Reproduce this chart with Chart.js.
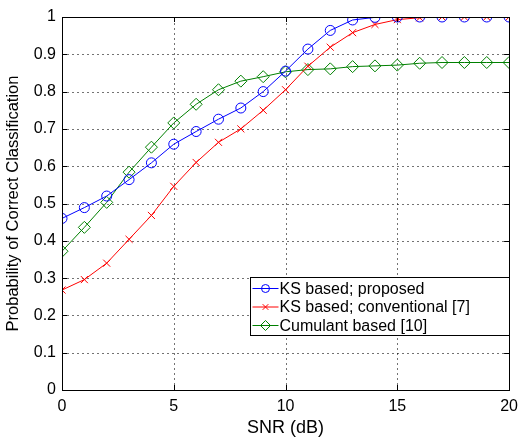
<!DOCTYPE html>
<html>
<head>
<meta charset="utf-8">
<script src="https://cdn.jsdelivr.net/npm/chart.js@4.4.0/dist/chart.umd.min.js"></script>
<style>
  html, body { margin: 0; padding: 0; background: #fff; overflow: hidden; }
  #wrap { width: 525px; height: 440px; }
</style>
</head>
<body>
<div id="wrap"><canvas id="pcc"></canvas></div>
<script>
// SNR in dB
const snr = [0,1,2,3,4,5,6,7,8,9,10,11,12,13,14,15,16,17,18,19,20];
const ksProposed = [0.46,0.489,0.52,0.564,0.609,0.659,0.693,0.726,0.756,0.80,0.855,0.914,0.964,0.992,0.999,1,1,1,1,1,1];
const ksConventional = [0.268,0.296,0.34,0.404,0.468,0.546,0.61,0.664,0.70,0.75,0.805,0.868,0.919,0.958,0.98,0.993,0.998,1,1,1,1];
const cumulant = [0.372,0.436,0.503,0.584,0.651,0.716,0.766,0.805,0.828,0.84,0.853,0.859,0.861,0.867,0.869,0.871,0.876,0.878,0.878,0.878,0.878];
const xTicks = [0,5,10,15,20];
const yTicks = [0,0.1,0.2,0.3,0.4,0.5,0.6,0.7,0.8,0.9,1];
const legendLabels = ['KS based; proposed','KS based; conventional [7]','Cumulant based [10]'];

const FONT = '"Liberation Sans", Arial, sans-serif';

function series(vals) { return snr.map((x, i) => ({ x: x, y: vals[i] })); }

// matlab style dotted grid, box and inward ticks
const boxPlugin = {
  id: 'box',
  beforeDatasetsDraw(chart) {
    const { ctx, chartArea: a, scales } = chart;
    ctx.save();
    ctx.strokeStyle = 'rgba(0,0,0,0.55)';
    ctx.lineWidth = 1;
    ctx.setLineDash([2, 3]);
    ctx.beginPath();
    xTicks.forEach(v => {
      const px = Math.round(scales.x.getPixelForValue(v)) + 0.5;
      ctx.moveTo(px, a.bottom); ctx.lineTo(px, a.top);
    });
    yTicks.forEach(v => {
      const py = Math.round(scales.y.getPixelForValue(v)) + 0.5;
      ctx.moveTo(a.left, py); ctx.lineTo(a.right, py);
    });
    ctx.stroke();
    ctx.restore();
  },
  afterDatasetsDraw(chart) {
    const { ctx, chartArea: a, scales } = chart;
    ctx.save();
    ctx.strokeStyle = '#000';
    ctx.lineWidth = 1;
    ctx.strokeRect(Math.round(a.left) + 0.5, Math.round(a.top) + 0.5, Math.round(a.right - a.left), Math.round(a.bottom - a.top));
    ctx.beginPath();
    xTicks.forEach(v => {
      const px = Math.round(scales.x.getPixelForValue(v)) + 0.5;
      ctx.moveTo(px, a.bottom); ctx.lineTo(px, a.bottom - 5);
      ctx.moveTo(px, a.top); ctx.lineTo(px, a.top + 5);
    });
    yTicks.forEach(v => {
      const py = Math.round(scales.y.getPixelForValue(v)) + 0.5;
      ctx.moveTo(a.left, py); ctx.lineTo(a.left + 5, py);
      ctx.moveTo(a.right, py); ctx.lineTo(a.right - 5, py);
    });
    ctx.stroke();
    ctx.restore();
  }
};

// legend box inside the axes, lower right
const legendBox = {
  id: 'legendBox',
  afterDraw(chart) {
    const { ctx, chartArea: a, scales } = chart;
    const w = 259, h = 58;
    const x0 = Math.round(a.right - w) + 0.5;
    const y0 = Math.round(scales.y.getPixelForValue(0.302)) + 0.5;
    ctx.save();
    ctx.fillStyle = '#fff';
    ctx.fillRect(x0, y0, w, h);
    ctx.strokeStyle = '#000';
    ctx.lineWidth = 1;
    ctx.strokeRect(x0, y0, w, h);
    ctx.font = '16px ' + FONT;
    ctx.textBaseline = 'middle';
    chart.data.datasets.forEach((ds, i) => {
      const cy = y0 + 11 + i * 18.5;
      ctx.strokeStyle = ds.borderColor;
      ctx.beginPath();
      ctx.moveTo(x0 + 2, cy); ctx.lineTo(x0 + 28, cy);
      ctx.stroke();
      ctx.fillStyle = 'rgba(0,0,0,0)';
      Chart.helpers.drawPoint(ctx, {
        pointStyle: ds.pointStyle, radius: ds.pointRadius - 1, borderWidth: 1
      }, x0 + 15, cy);
      ctx.fillStyle = '#000';
      ctx.fillText(legendLabels[i], x0 + 29, cy + 1);
    });
    ctx.restore();
  }
};

new Chart(document.getElementById('pcc'), {
  type: 'line',
  data: {
    datasets: [
      { label: legendLabels[0], data: series(ksProposed), borderColor: '#0000ff', pointStyle: 'circle', pointRadius: 5 },
      { label: legendLabels[1], data: series(ksConventional), borderColor: '#ff0000', pointStyle: 'crossRot', pointRadius: 5 },
      { label: legendLabels[2], data: series(cumulant), borderColor: '#008000', pointStyle: 'rectRot', pointRadius: 6 }
    ].map(d => Object.assign(d, {
      borderWidth: 1, pointBorderColor: d.borderColor, pointBackgroundColor: 'rgba(0,0,0,0)',
      pointBorderWidth: 1, tension: 0, fill: false
    }))
  },
  options: {
    responsive: true,
    maintainAspectRatio: false,
    animation: false,
    devicePixelRatio: 1,
    layout: { padding: { top: 17, right: -7, left: 0, bottom: 0 } },
    plugins: { legend: { display: false }, tooltip: { enabled: false } },
    scales: {
      x: {
        type: 'linear', min: 0, max: 20,
        afterBuildTicks: s => { s.ticks = xTicks.map(v => ({ value: v })); },
        afterFit: s => { s.height = 50; },
        grid: { display: false, drawTicks: false },
        border: { display: false },
        ticks: { color: '#000', font: { family: FONT, size: 16 }, padding: 7, maxRotation: 0 },
        title: { display: true, text: 'SNR (dB)', color: '#000', font: { family: FONT, size: 18 }, padding: { top: 0, bottom: 1 } }
      },
      y: {
        type: 'linear', min: 0, max: 1,
        afterBuildTicks: s => { s.ticks = yTicks.map(v => ({ value: v })); },
        afterFit: s => { s.width = 62; },
        grid: { display: false, drawTicks: false },
        border: { display: false },
        ticks: { color: '#000', font: { family: FONT, size: 16 }, padding: 6, callback: v => String(Math.round(v * 10) / 10) },
        title: { display: true, text: 'Probability of Correct Classification', color: '#000', font: { family: FONT, size: 16.5 }, padding: { top: 4, bottom: 0 } }
      }
    }
  },
  plugins: [boxPlugin, legendBox]
});
</script>
</body>
</html>
